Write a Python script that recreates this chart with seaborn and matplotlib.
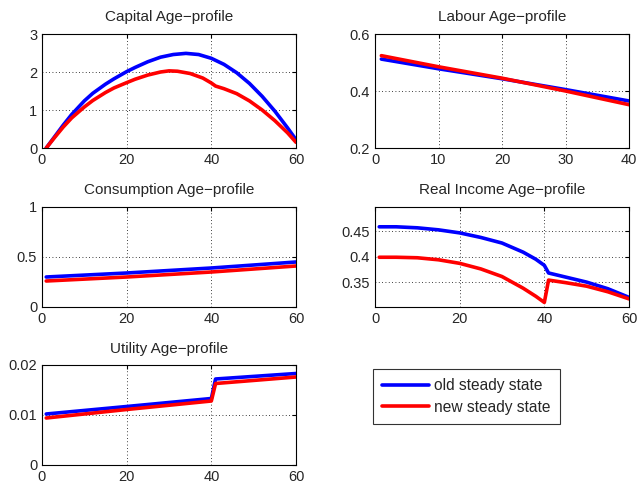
"""
Steady-state age profiles: old vs new steady state, MATLAB-style 3x2 grid.
"""
import pandas as pd
import matplotlib
matplotlib.use("Agg")
import matplotlib.pyplot as plt
import matplotlib.ticker as mticker
import seaborn as sns

STATES = ["old steady state", "new steady state"]
COLORS = {"old steady state": "#0000ff", "new steady state": "#ff0000"}

# Capital
CAP_AGE_OLD = [1, 3, 5, 7, 10, 12, 15, 17, 20, 22, 25, 28, 31, 34, 37, 40,
               43, 46, 49, 52, 55, 58, 60]
CAP_OLD = [0.00, 0.30, 0.60, 0.88, 1.24, 1.44, 1.68, 1.82, 2.01, 2.12, 2.27, 2.39,
           2.46, 2.49, 2.46, 2.36, 2.20, 1.98, 1.70, 1.36, 0.97, 0.53, 0.22]
CAP_AGE_NEW = [1, 3, 5, 7, 10, 12, 15, 17, 20, 22, 25, 28, 30, 32, 35, 38, 40,
               41, 43, 46, 49, 52, 55, 58, 60]
CAP_NEW = [0.00, 0.28, 0.55, 0.79, 1.08, 1.25, 1.46, 1.58, 1.72, 1.81, 1.92, 2.00,
           2.03, 2.02, 1.96, 1.84, 1.71, 1.63, 1.56, 1.43, 1.24, 1.00, 0.72, 0.40, 0.15]

# Labour (working ages only)
LAB_AGE = [1, 10, 20, 30, 40]
LAB_OLD = [0.512, 0.478, 0.443, 0.405, 0.365]
LAB_NEW = [0.524, 0.485, 0.445, 0.400, 0.352]

# Consumption
CON_AGE = [1, 20, 40, 60]
CON_OLD = [0.30, 0.34, 0.39, 0.45]
CON_NEW = [0.26, 0.30, 0.35, 0.41]

# Real income
INC_AGE = [1, 5, 10, 15, 20, 25, 30, 35, 38, 40, 41, 45, 50, 55, 60]
INC_OLD = [0.459, 0.459, 0.457, 0.453, 0.447, 0.438, 0.427, 0.409, 0.395, 0.383,
           0.368, 0.360, 0.350, 0.337, 0.320]
INC_NEW = [0.399, 0.399, 0.398, 0.394, 0.387, 0.376, 0.361, 0.338, 0.322, 0.310,
           0.354, 0.349, 0.342, 0.331, 0.317]

# Utility
UTL_AGE = [1, 20, 40, 41, 60]
UTL_OLD = [0.0102, 0.0117, 0.0133, 0.0172, 0.0183]
UTL_NEW = [0.0094, 0.0111, 0.0128, 0.0163, 0.0176]


def to_long(age_old, old, age_new, new):
    a = pd.DataFrame({"age": age_old, "value": old, "state": STATES[0]})
    b = pd.DataFrame({"age": age_new, "value": new, "state": STATES[1]})
    return pd.concat([a, b], ignore_index=True)


def style_axis(ax, title, xlim, xticks, ylim, yticks):
    ax.set_title(title, fontsize=11, pad=9)
    ax.set_xlim(*xlim)
    ax.set_ylim(*ylim)
    ax.set_xticks(xticks)
    ax.set_yticks(yticks)
    ax.yaxis.set_major_formatter(mticker.FuncFormatter(lambda v, p: f"{v:g}"))
    ax.set_xlabel("")
    ax.set_ylabel("")
    ax.grid(True, color="black", linestyle=(0, (1, 3)), linewidth=0.6)
    ax.tick_params(direction="in", length=3, labelsize=10.5, top=True, right=True,
                   color="black")
    for s in ax.spines.values():
        s.set_visible(True)
        s.set_color("black")
        s.set_linewidth(0.8)


sns.set_style("white")
plt.rcParams["font.family"] = ["Liberation Sans", "DejaVu Sans"]

fig = plt.figure(figsize=(6.39, 4.87), dpi=100)
W, H = 639, 487
cols = [42, 375]
rows = [(34, 148), (207, 307), (365, 465)]


def make_ax(col, row):
    top, bot = rows[row]
    return fig.add_axes([cols[col] / W, 1 - bot / H, 254 / W, (bot - top) / H])


panels = [
    (0, 0, "Capital Age\u2212profile", to_long(CAP_AGE_OLD, CAP_OLD, CAP_AGE_NEW, CAP_NEW),
     (0, 60), [0, 20, 40, 60], (0, 3), [0, 1, 2, 3]),
    (1, 0, "Labour Age\u2212profile", to_long(LAB_AGE, LAB_OLD, LAB_AGE, LAB_NEW),
     (0, 40), [0, 10, 20, 30, 40], (0.2, 0.6), [0.2, 0.4, 0.6]),
    (0, 1, "Consumption Age\u2212profile", to_long(CON_AGE, CON_OLD, CON_AGE, CON_NEW),
     (0, 60), [0, 20, 40, 60], (0, 1), [0, 0.5, 1]),
    (1, 1, "Real Income Age\u2212profile", to_long(INC_AGE, INC_OLD, INC_AGE, INC_NEW),
     (0, 60), [0, 20, 40, 60], (0.301, 0.498), [0.35, 0.4, 0.45]),
    (0, 2, "Utility Age\u2212profile", to_long(UTL_AGE, UTL_OLD, UTL_AGE, UTL_NEW),
     (0, 60), [0, 20, 40, 60], (0, 0.02), [0, 0.01, 0.02]),
]

for col, row, title, df, xlim, xt, ylim, yt in panels:
    ax = make_ax(col, row)
    sns.lineplot(data=df, x="age", y="value", hue="state", hue_order=STATES,
                 palette=COLORS, linewidth=2.6, legend=False, ax=ax, sort=True)
    style_axis(ax, title, xlim, xt, ylim, yt)

handles = [plt.Line2D([], [], color=COLORS[s], linewidth=2.6) for s in STATES]
leg = fig.legend(handles, STATES, loc="upper left",
                 bbox_to_anchor=(373 / W, 1 - 369 / H), fontsize=11.2,
                 frameon=True, fancybox=False, edgecolor="black",
                 handlelength=3.0, borderpad=0.6, labelspacing=0.4,
                 handletextpad=0.35, borderaxespad=0)
leg.get_frame().set_linewidth(0.8)

fig.savefig("out.png", dpi=100)
